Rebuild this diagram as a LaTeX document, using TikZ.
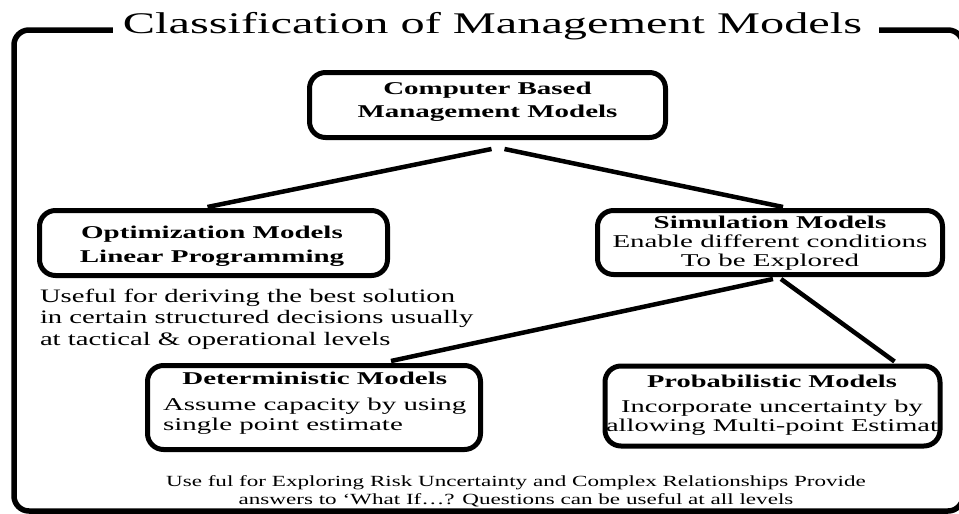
\documentclass[tikz,border=0pt]{standalone}
\usepackage{fontspec}
\setmainfont{Liberation Serif}
\usepackage{graphicx}
\usetikzlibrary{calc}
% #1 horizontal stretch, #2 size, #3 skip, #4 column spec, #5 body
\newcommand\wtext[5]{\scalebox{#1}[1]{\fontsize{#2}{#3}\selectfont\begin{tabular}[t]{@{}#4@{}}#5\end{tabular}}}
\tikzset{
  mbox/.style={draw, line width=5pt, rounded corners=16pt, inner sep=0pt},
  txt/.style={inner sep=0pt, outer sep=0pt},
  frame/.style={line width=5.5pt, rounded corners=15pt},
  link/.style={line width=4.5pt}
}
\begin{document}
\begin{tikzpicture}[x=1pt,y=-1pt]
\useasboundingbox (0,0) rectangle (959,514);
\fill[white] (0,0) rectangle (959,514);

% title and frame
\node[txt, anchor=base] (title) at (492.5,33) {\wtext{1.61}{30}{36}{c}{Classification of Management Models}};
\draw[frame] ($(title.base west)+(-10,-3)$) -- (14,30) -- (14,511) -- (963,511) -- (963,30) -- ($(title.base east)+(17,-3)$);

% boxes
\node[mbox, minimum width=356pt, minimum height=65pt] (top) at (487.5,105) {};
\node[mbox, minimum width=348pt, minimum height=65pt] (opt) at (213.5,243) {};
\node[mbox, minimum width=345pt, minimum height=64pt] (sim) at (770,242.5) {};
\node[mbox, minimum width=333pt, minimum height=84pt] (det) at (314,407.5) {};
\node[mbox, minimum width=335pt, minimum height=80pt] (prob) at (772.5,406) {};

% texts
\node[txt, anchor=base] (topt) at (487.5,94) {\wtext{1.61}{18}{23}{c}{\bfseries Computer Based\\ \bfseries Management Models}};
\node[txt, anchor=base] (optt) at (212,238) {\wtext{1.61}{18}{24}{c}{\bfseries Optimization Models\\ \bfseries Linear Programming}};
\node[txt, anchor=base west] (desc) at (40,302) {\wtext{1.51}{19}{21.5}{l}{Useful for deriving the best solution\\ in certain structured decisions usually\\ at tactical \& operational levels}};
\node[txt, anchor=base] (simt) at (770,228) {\wtext{1.61}{18}{19}{c}{\textbf{Simulation Models}\\ Enable different conditions\\ To be Explored}};
\node[txt, anchor=base west] (dett) at (163,384) {\wtext{1.61}{18}{20}{l}{\multicolumn{1}{c}{\textbf{Deterministic Models}}\\[6pt] Assume capacity by using\\ single point estimate}};
\node[txt, anchor=base] (probt) at (772,387) {\wtext{1.58}{18}{18.5}{c}{\textbf{Probabilistic Models}\\[7pt] Incorporate uncertainty by\\ allowing Multi-point Estimat}};
\node[txt, anchor=base] (bottom) at (516,486) {\wtext{1.49}{15.5}{18}{c}{Use ful for Exploring Risk Uncertainty and Complex Relationships Provide\\ answers to `What If\ldots? Questions can be useful at all levels}};

% connectors
\draw[link] ($(top.south)+(4,9)$) -- ($(opt.north)+(-6,-1)$);
\draw[link] ($(top.south)+(17,9)$) -- ($(sim.north)+(13,-1)$);
\draw[link] ($(sim.south)+(3,2)$) -- ($(det.north)+(77,-2)$);
\draw[link] ($(sim.south)+(11,2)$) -- ($(prob.north)+(122,-2)$);
\end{tikzpicture}
\end{document}
